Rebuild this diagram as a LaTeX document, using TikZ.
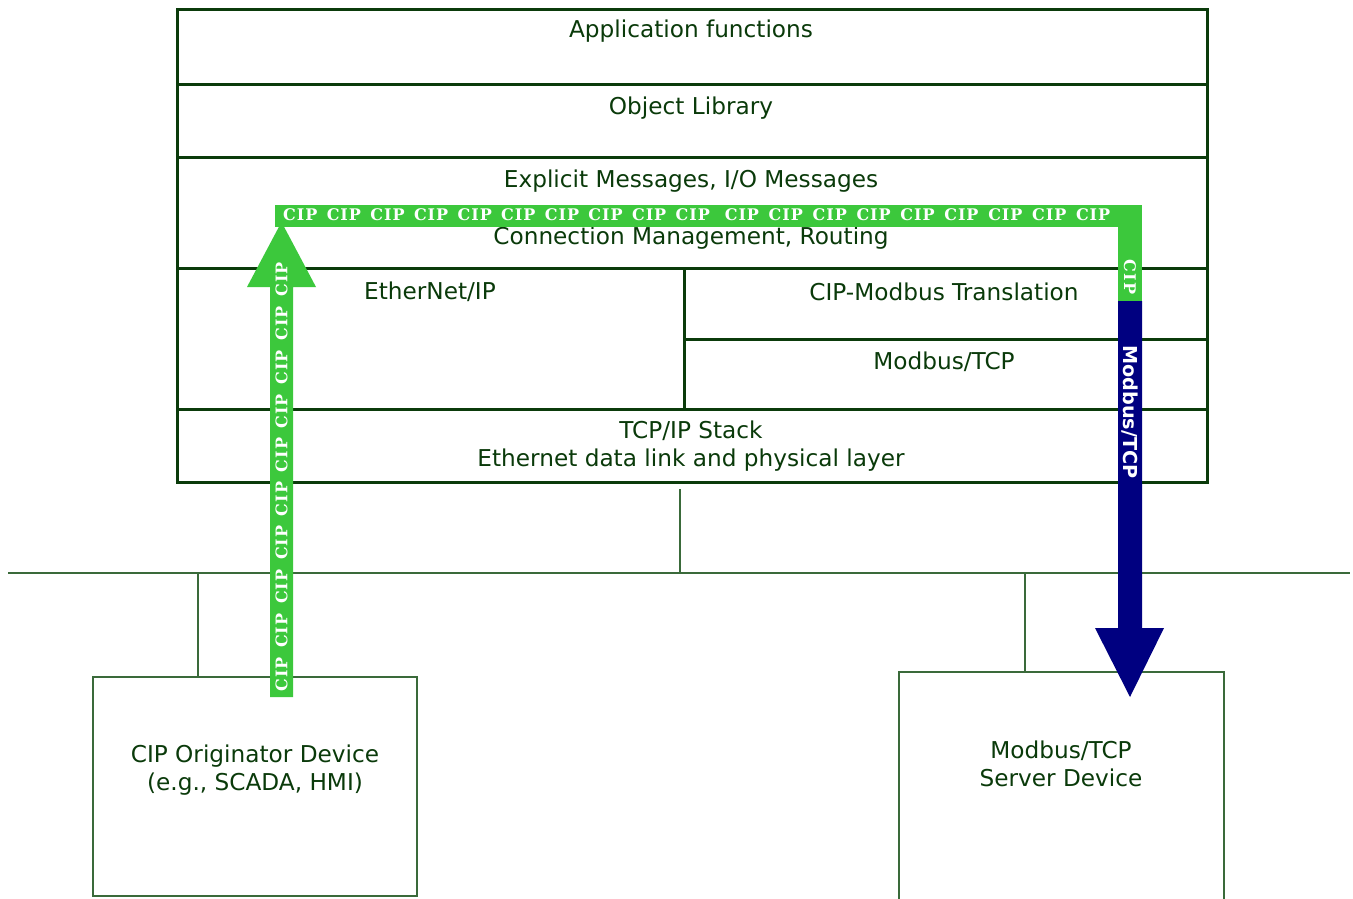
\documentclass[tikz,border=0pt]{standalone}
\usepackage{fontspec}
\setmainfont{DejaVu Sans}
\newfontfamily\cipfont[LetterSpace=6]{DejaVu Serif}
\usetikzlibrary{fit}
\definecolor{boxgreen}{HTML}{0B3B0B}
\definecolor{txtgreen}{HTML}{0A3A0A}
\definecolor{netgreen}{HTML}{3A6A3A}
\definecolor{cipgreen}{HTML}{3CC83C}
\definecolor{mbnavy}{HTML}{000080}
\begin{document}
\begin{tikzpicture}[x=0.75pt,y=-0.75pt,
  layer/.style={draw=boxgreen,line width=2.25pt,inner sep=0pt},
  device/.style={draw=netgreen,line width=1.5pt,inner sep=0pt},
  net/.style={draw=netgreen,line width=1.5pt},
  lbl/.style={text=txtgreen,font=\fontsize{17.4}{21}\selectfont,inner sep=0pt,align=center},
  ciptext/.style={text=white,font=\cipfont\bfseries\fontsize{12}{13}\selectfont,inner sep=0pt},
  mbtext/.style={text=white,font=\bfseries\fontsize{14.4}{16}\selectfont,inner sep=0pt}]
\useasboundingbox (0,0) rectangle (1353,899);
\fill[white] (0,0) rectangle (1353,899);
% main stack
\node[layer,fit={(177,10)(1207,85)}] (app) {};
\node[layer,fit={(177,85)(1207,157)}] (objlib) {};
\node[layer,fit={(177,157)(1207,268)}] (msg) {};
\node[layer,fit={(177,268)(684,409)}] (enip) {};
\node[layer,fit={(684,268)(1207,339)}] (trans) {};
\node[layer,fit={(684,339)(1207,409)}] (mbtcp) {};
\node[layer,fit={(177,409)(1207,482)}] (tcpip) {};
\node[lbl] (tApp) at (691,31) {Application functions};
\node[lbl] (tObj) at (691,108) {Object Library};
\node[lbl] (tMsg) at (691,181) {Explicit Messages, I/O Messages};
\node[lbl] (tConn) at (691,238) {Connection Management, Routing};
\node[lbl] (tEnip) at (430,292) {EtherNet/IP};
\node[lbl] (tTrans) at (944,292) {CIP-Modbus Translation};
\node[lbl] (tMb) at (944,362) {Modbus/TCP};
\node[lbl] (tTcp) at (691,446) {TCP/IP Stack\\Ethernet data link and physical layer};
% network
\coordinate (busL) at (8,573);
\coordinate (busR) at (1350,573);
\coordinate (mainTap) at (680,489);
\coordinate (tapL) at (198,573);
\coordinate (tapR) at (1025,573);
\draw[net] (busL) -- (busR);
\draw[net] (mainTap) -- (mainTap |- busL);
\node[device,fit={(93,677)(417,896)}] (orig) {};
\node[device,fit={(899,672)(1224,910)}] (server) {};
\draw[net] (tapL) -- (tapL |- orig.north);
\draw[net] (tapR) -- (tapR |- server.north);
\node[lbl] (tOrig) at (255,770) {CIP Originator Device\\(e.g., SCADA, HMI)};
\node[lbl] (tServer) at (1061,764) {Modbus/TCP\\Server Device};
% CIP path (green)
\fill[cipgreen] (270,697) -- (270,287) -- (247,287) -- (281.5,222) -- (316,287) -- (293,287) -- (293,697) -- cycle;
\fill[cipgreen] (275,205) rectangle (1142,227);
\fill[cipgreen] (1118,205) rectangle (1142,301);
% Modbus path (navy)
\fill[mbnavy] (1118,301) -- (1118,628) -- (1095,628) -- (1130,697) -- (1164,628) -- (1142,628) -- (1142,301) -- cycle;
% labels on paths
\node[ciptext] (cipH1) at (496.5,215) {\makebox[320pt][s]{CIP CIP CIP CIP CIP CIP CIP CIP CIP CIP}};
\node[ciptext] (cipH2) at (917.5,215) {\makebox[289pt][s]{CIP CIP CIP CIP CIP CIP CIP CIP CIP}};
\node[ciptext,rotate=90] (cipV) at (281.5,477) {\makebox[322pt][s]{CIP CIP CIP CIP CIP CIP CIP CIP CIP CIP}};
\node[ciptext,rotate=-90] (cipR) at (1130,277) {CIP};
\node[mbtext,rotate=-90] (mbR) at (1130,412) {Modbus/TCP};
\end{tikzpicture}
\end{document}
